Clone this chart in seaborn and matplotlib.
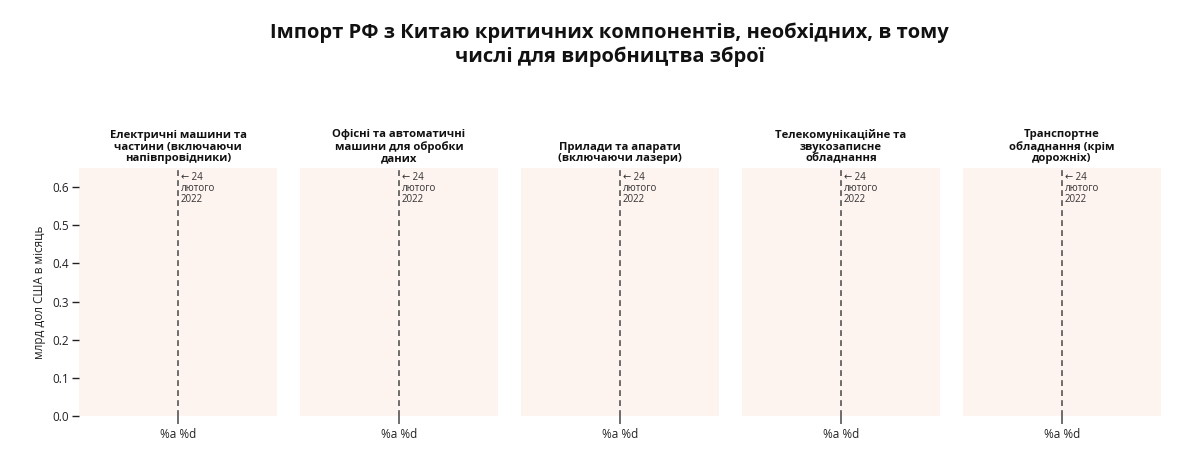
import matplotlib
matplotlib.use('Agg')
import matplotlib.pyplot as plt
import matplotlib.dates as mdates
import seaborn as sns
import pandas as pd

# Категорії (панелі)
categories = [
    'Електричні машини та\nчастини (включаючи\nнапівпровідники)',
    'Офісні та автоматичні\nмашини для обробки\nданих',
    'Прилади та апарати\n(включаючи лазери)',
    'Телекомунікаційне та\nзвукозаписне\nобладнання',
    'Транспортне\nобладнання (крім\nдорожніх)',
]
# Дані порожні на графіку
dates = []
values = []
event_date = pd.Timestamp('2022-02-24')
event_label = '← 24\nлютого\n2022'
x_start = pd.Timestamp('2021-01-01')
x_end = pd.Timestamp('2023-04-19')
y_ticks = [0.0, 0.1, 0.2, 0.3, 0.4, 0.5, 0.6]
x_tick_label = '%a %d'

sns.set_style('white')
plt.rcParams['font.family'] = ['Open Sans', 'DejaVu Sans']
plt.rcParams['xtick.bottom'] = True
plt.rcParams['ytick.left'] = True

fig = plt.figure(figsize=(12, 4.68), dpi=100)
fig.suptitle('Імпорт РФ з Китаю критичних компонентів, необхідних, в тому\nчислі для виробництва зброї',
             x=0.508, y=0.952, fontsize=14.5, fontweight='bold', color='#111', linespacing=1.25)

left0 = 79 / 1200
w = 198 / 1200
step = 221 / 1200
bottom = 1 - 416 / 468
h = (416 - 168) / 468

for i, cat in enumerate(categories):
    ax = fig.add_axes([left0 + i * step, bottom, w, h])
    ax.set_facecolor('#fdf3ef')
    for s in ax.spines.values():
        s.set_visible(False)
    ax.plot(dates, values)
    ax.set_xlim(x_start, x_end)
    ax.set_ylim(0, 0.65)
    ax.axvline(event_date, color='#555', lw=1.2, ls=(0, (3.5, 2.5)), ymin=0, ymax=1, zorder=3)
    ax.text(event_date + pd.Timedelta(days=12), 0.64, event_label, fontsize=7,
            va='top', ha='left', color='#333', linespacing=1.0)
    ax.set_xticks([mdates.date2num(event_date)])
    ax.set_xticklabels([x_tick_label], fontsize=8.5, color='#222')
    ax.tick_params(axis='x', length=6, width=1.2, color='#555', pad=3)
    if i == 0:
        ax.set_yticks(y_ticks)
        ax.set_yticklabels([f'{v:.1f}' for v in y_ticks], fontsize=8.5, color='#222')
        ax.tick_params(axis='y', length=5, width=1, color='#222', pad=2)
        ax.set_ylabel('млрд дол США в місяць', fontsize=8.5, color='#222', labelpad=5)
    else:
        ax.set_yticks([])
        ax.tick_params(axis='y', left=False)
    ax.set_title(cat, fontsize=8.1, fontweight='bold', color='#111', pad=5, linespacing=1.05)

fig.savefig('out.png', dpi=100, facecolor='white')
